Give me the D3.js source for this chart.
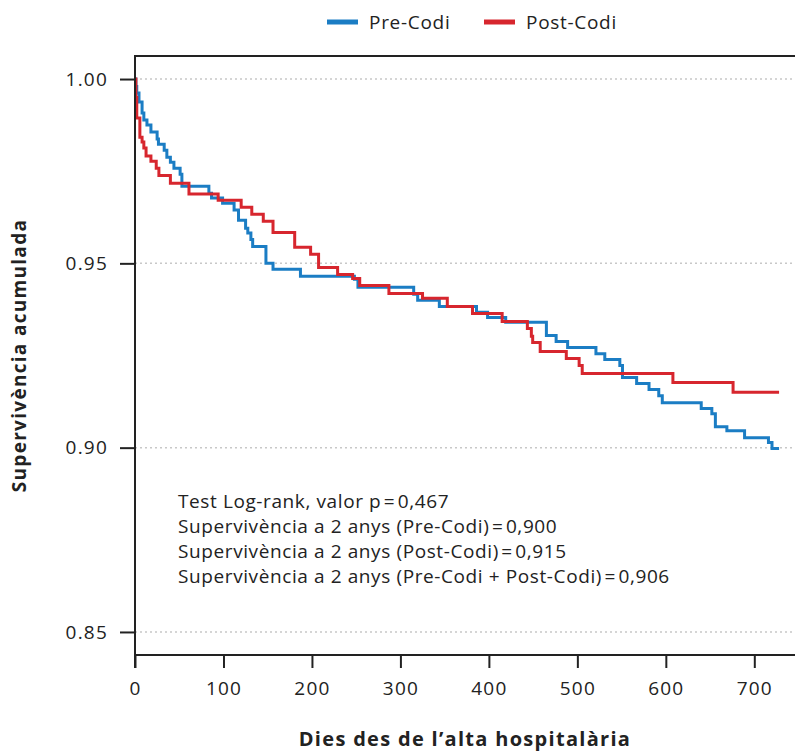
<!DOCTYPE html>
<html>
<head>
<meta charset="utf-8">
<script src="https://cdn.jsdelivr.net/npm/d3@7"></script>
<style>
    body { margin: 0; background: #fff; }
    svg text { font-family: "Open Sans", "Noto Sans", sans-serif; fill: #222; }
</style>
</head>
<body>
<div id="chart"></div>
<script>
// survival steps (days, cumulative survival)
const preDays = [0, 1, 2, 4.5, 8, 10, 13.5, 18, 25, 26.5, 33, 36, 40, 44, 51, 53, 83.5, 86.5, 99, 112, 117, 125, 127.5, 131, 133, 148, 156, 187, 248, 252, 315, 319.5, 344, 386, 398.5, 419, 465, 476, 489, 521, 531, 548, 551, 567, 581, 592, 596, 640, 652, 656, 669, 689, 716, 720, 728];
const preSurv = [1, 0.998, 0.9962, 0.9938, 0.9908, 0.9889, 0.9875, 0.9856, 0.9837, 0.9823, 0.9807, 0.9788, 0.9774, 0.9758, 0.9742, 0.9709, 0.969, 0.9677, 0.9663, 0.9645, 0.9617, 0.9595, 0.9582, 0.9565, 0.9546, 0.95, 0.9484, 0.9465, 0.9457, 0.9435, 0.9416, 0.94, 0.9383, 0.9367, 0.9353, 0.934, 0.9304, 0.9288, 0.9272, 0.9255, 0.9239, 0.9223, 0.919, 0.9174, 0.9158, 0.9141, 0.9122, 0.9106, 0.9092, 0.9057, 0.9046, 0.9027, 0.9014, 0.8998, 0.8998];

const postDays = [0, 1, 2, 5.5, 8, 10, 12.5, 18, 24, 27, 40, 61, 94, 120, 132, 145, 156, 180.5, 198.5, 207.5, 229, 246, 254, 287, 325, 353, 381.5, 415, 443.5, 448, 449.5, 458, 487.5, 502, 505.5, 608, 676, 728];
const postSurv = [1, 0.995, 0.9894, 0.9842, 0.9829, 0.9813, 0.9791, 0.9777, 0.9758, 0.9738, 0.9717, 0.9688, 0.9671, 0.9652, 0.9633, 0.9614, 0.9584, 0.9544, 0.9525, 0.9489, 0.947, 0.9459, 0.944, 0.9418, 0.9405, 0.9383, 0.9364, 0.9342, 0.9323, 0.9302, 0.9285, 0.9261, 0.9242, 0.9223, 0.9201, 0.9177, 0.915, 0.915];

const seriesNames = ["Pre-Codi", "Post-Codi"];
const seriesColors = ["#1b7dc4", "#d7262e"];

const xTicks = [0, 100, 200, 300, 400, 500, 600, 700];
const yTicks = [0.85, 0.90, 0.95, 1.00];

const notes = [
    "Test Log-rank, valor p\u200a=\u200a0,467",
    "Supervivència a 2 anys (Pre-Codi)\u200a=\u200a0,900",
    "Supervivència a 2 anys (Post-Codi)\u200a=\u200a0,915",
    "Supervivència a 2 anys (Pre-Codi + Post-Codi)\u200a=\u200a0,906"
];

class SurvivalChart {
    constructor(selector) {
        this.width = 795;
        this.height = 751;
        this.margin = { top: 56, right: 0, bottom: 96, left: 135 };

        this.svg = d3.select(selector).append("svg")
            .attr("width", this.width)
            .attr("height", this.height)
        ;

        this.x = d3.scaleLinear()
            .domain([0, 746])
            .range([this.margin.left, this.width - this.margin.right]);
        this.y = d3.scaleLinear()
            .domain([0.84375, 1.00625])
            .range([this.height - this.margin.bottom, this.margin.top]);
    }

    draw(series) {
        const x = this.x, y = this.y;
        const left = this.margin.left, right = this.width - this.margin.right;
        const top = this.margin.top, bottom = this.height - this.margin.bottom;

        // dotted gridlines
        this.svg.append("g")
            .selectAll("line")
            .data(yTicks)
            .enter()
            .append("line")
            .attr("x1", left)
            .attr("x2", right)
            .attr("y1", d => y(d))
            .attr("y2", d => y(d))
            .attr("stroke", "#c8c8c8")
            .attr("stroke-width", 1.5)
            .attr("stroke-dasharray", "2,3")
        ;

        // survival curves
        const line = d3.line()
            .x(d => x(d[0]))
            .y(d => y(d[1]))
            .curve(d3.curveStepAfter);

        this.svg.append("g")
            .selectAll("path")
            .data(series)
            .enter()
            .append("path")
            .attr("d", d => line(d.points))
            .attr("fill", "none")
            .attr("stroke", d => d.color)
            .attr("stroke-width", 3)
        ;

        // axes
        const xAxis = this.svg.append("g")
            .attr("transform", `translate(0,${bottom})`)
            .call(d3.axisBottom(x).tickValues(xTicks).tickSize(13).tickPadding(14).tickFormat(d3.format("d")));
        xAxis.select(".domain").remove();
        xAxis.selectAll("line").attr("stroke", "#222").attr("stroke-width", 2);
        xAxis.selectAll("text").attr("font-size", 19).attr("letter-spacing", 1.2).attr("fill", "#222");

        const yAxis = this.svg.append("g")
            .attr("transform", `translate(${left},0)`)
            .call(d3.axisLeft(y).tickValues(yTicks).tickSize(15).tickPadding(12).tickFormat(d3.format(".2f")));
        yAxis.select(".domain").remove();
        yAxis.selectAll("line").attr("stroke", "#222").attr("stroke-width", 2);
        yAxis.selectAll("text").attr("font-size", 19).attr("letter-spacing", 1.2).attr("fill", "#222");

        // frame: left (extends below), top, bottom
        this.svg.append("path")
            .attr("d", `M${left},${bottom + 13}V${top}H${right}M${left},${bottom}H${right}`)
            .attr("fill", "none")
            .attr("stroke", "#222")
            .attr("stroke-width", 2)
        ;

        // axis titles
        this.svg.append("text")
            .attr("x", (left + right) / 2)
            .attr("y", 746)
            .attr("text-anchor", "middle")
            .attr("font-size", 20)
            .attr("letter-spacing", 1.3)
            .attr("font-weight", "bold")
            .text("Dies des de l\u2019alta hospitalària")
        ;
        this.svg.append("text")
            .attr("transform", `translate(26,${(top + bottom) / 2}) rotate(-90)`)
            .attr("text-anchor", "middle")
            .attr("font-size", 19)
            .attr("letter-spacing", 1.3)
            .attr("font-weight", "bold")
            .text("Supervivència acumulada")
        ;

        // legend
        const legendX = [327, 484];
        const legend = this.svg.append("g")
            .selectAll("g")
            .data(series)
            .enter()
            .append("g")
            .attr("transform", (d, i) => `translate(${legendX[i]},22)`)
        ;
        legend.append("line")
            .attr("x1", 0).attr("x2", 31)
            .attr("stroke", d => d.color)
            .attr("stroke-width", 5)
        ;
        legend.append("text")
            .attr("x", 42)
            .attr("dy", "0.35em")
            .attr("font-size", 19)
            .attr("letter-spacing", 0.7)
            .text(d => d.name)
        ;

        // notes
        this.svg.append("g")
            .selectAll("text")
            .data(notes)
            .enter()
            .append("text")
            .attr("x", 178)
            .attr("y", (d, i) => 508 + i * 25)
            .attr("font-size", 19)
            .attr("letter-spacing", 0.6)
            .text(d => d)
        ;
    }
}

const series = [
    { name: seriesNames[0], color: seriesColors[0], points: preDays.map((d, i) => [d, preSurv[i]]) },
    { name: seriesNames[1], color: seriesColors[1], points: postDays.map((d, i) => [d, postSurv[i]]) }
];

const chart = new SurvivalChart("#chart");
chart.draw(series);
</script>
</body>
</html>
